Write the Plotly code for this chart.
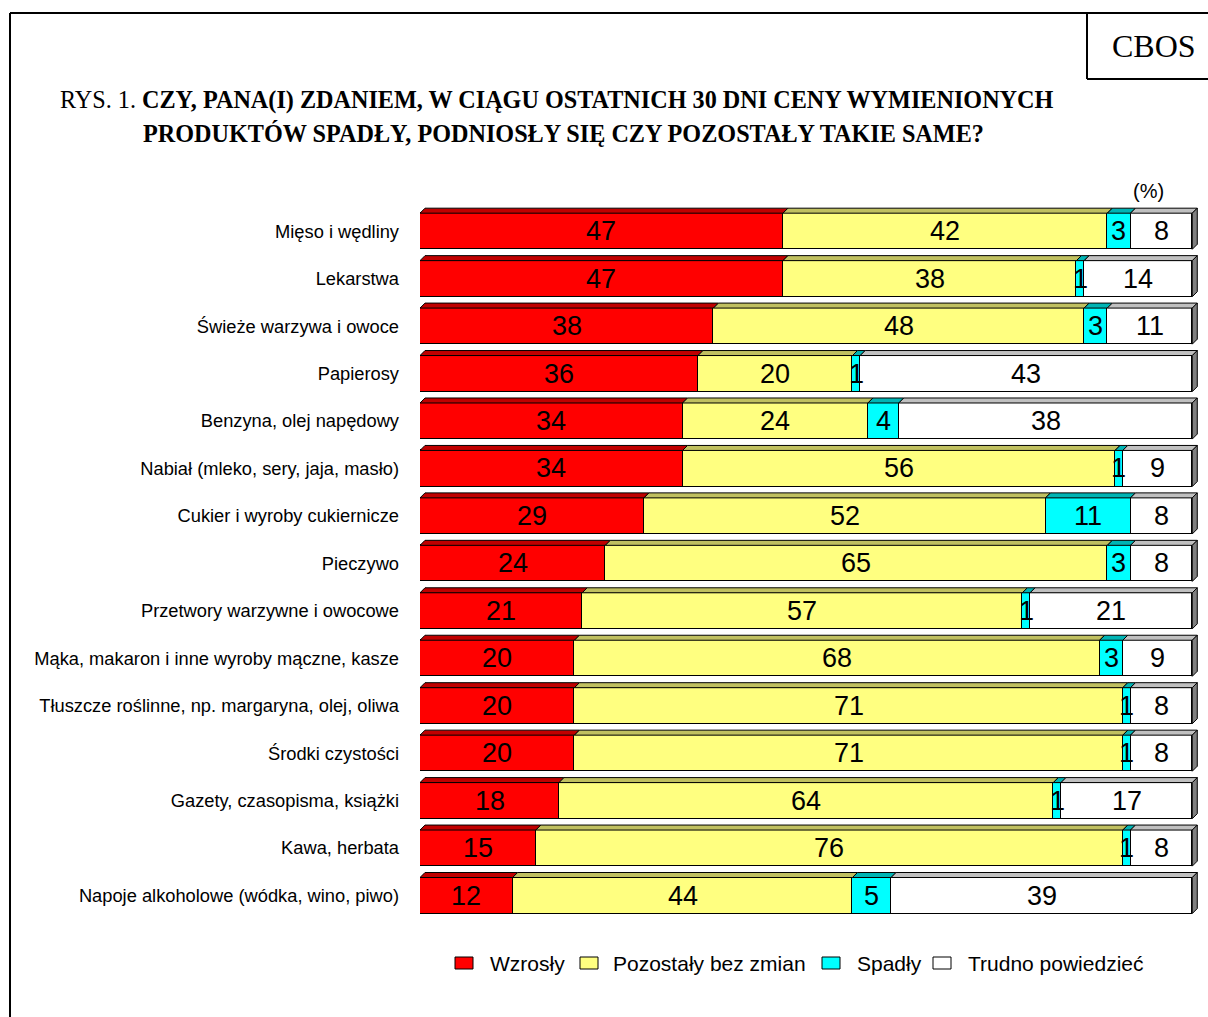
import plotly.graph_objects as go

# Survey answers (%), one row per product group
categories = [
    "Mięso i wędliny",
    "Lekarstwa",
    "Świeże warzywa i owoce",
    "Papierosy",
    "Benzyna, olej napędowy",
    "Nabiał (mleko, sery, jaja, masło)",
    "Cukier i wyroby cukiernicze",
    "Pieczywo",
    "Przetwory warzywne i owocowe",
    "Mąka, makaron i inne wyroby mączne, kasze",
    "Tłuszcze roślinne, np. margaryna, olej, oliwa",
    "Środki czystości",
    "Gazety, czasopisma, książki",
    "Kawa, herbata",
    "Napoje alkoholowe (wódka, wino, piwo)",
]
wzrosly = [47, 47, 38, 36, 34, 34, 29, 24, 21, 20, 20, 20, 18, 15, 12]
bez_zmian = [42, 38, 48, 20, 24, 56, 52, 65, 57, 68, 71, 71, 64, 76, 44]
spadly = [3, 1, 3, 1, 4, 1, 11, 3, 1, 3, 1, 1, 1, 1, 5]
trudno = [8, 14, 11, 43, 38, 9, 8, 8, 21, 9, 8, 8, 17, 8, 39]

series_names = ["Wzrosły", "Pozostały bez zmian", "Spadły", "Trudno powiedzieć"]
series_values = [wzrosly, bez_zmian, spadly, trudno]
front_colors = ["#FF0000", "#FFFF80", "#00FFFF", "#FFFFFF"]
top_colors = ["#C00000", "#C0C060", "#00B4B4", "#C0C0C0"]
side_color = "#808080"

# page geometry (pixels)
W, H = 1208, 1017
M_L, M_R, M_T, M_B = 420, 8, 198, 93
PLOT_W = W - M_L - M_R
PLOT_H = H - M_T - M_B
X_RANGE = [0, 101]
Y_RANGE = [14.6, -0.7]
BAR_W = 0.76

px_per_x = PLOT_W / (X_RANGE[1] - X_RANGE[0])
px_per_y = PLOT_H / (Y_RANGE[0] - Y_RANGE[1])
DEPTH_PX = 5
dx = DEPTH_PX / px_per_x
dy = DEPTH_PX / px_per_y


def paper_x(px):
    return (px - M_L) / PLOT_W


def paper_y(py):
    return (H - M_B - py) / PLOT_H


rows = list(range(len(categories)))
fig = go.Figure()

for name, vals, col in zip(series_names, series_values, front_colors):
    fig.add_trace(go.Bar(
        y=rows, x=vals, name=name, orientation="h", width=BAR_W,
        marker=dict(color=col, line=dict(color="black", width=1)),
        hoverinfo="x+name", showlegend=False,
    ))

shapes = []
annotations = []
for i in rows:
    left = 0
    y_top = i - BAR_W / 2
    y_bot = i + BAR_W / 2
    for s, vals in enumerate(series_values):
        v = vals[i]
        right = left + v
        # top face of the segment
        shapes.append(dict(
            type="path", xref="x", yref="y", layer="above",
            path=(f"M{left},{y_top} L{right},{y_top} L{right + dx},{y_top - dy} "
                  f"L{left + dx},{y_top - dy} Z"),
            fillcolor=top_colors[s], line=dict(color="black", width=1),
        ))
        annotations.append(dict(
            x=(left + right) / 2, y=i, xref="x", yref="y", text=str(v),
            showarrow=False, xanchor="center", yanchor="middle",
            font=dict(family="Liberation Sans, Arial", size=27, color="black"),
        ))
        left = right
    # right side face at the end of the stack
    shapes.append(dict(
        type="path", xref="x", yref="y", layer="above",
        path=(f"M{left},{y_bot} L{left},{y_top} L{left + dx},{y_top - dy} "
              f"L{left + dx},{y_bot - dy} Z"),
        fillcolor=side_color, line=dict(color="black", width=1),
    ))

# page frame and the CBOS box
frame = dict(color="black", width=2)
shapes += [
    dict(type="line", xref="paper", yref="paper", x0=paper_x(10), x1=paper_x(W + 5),
         y0=paper_y(13), y1=paper_y(13), line=frame),
    dict(type="line", xref="paper", yref="paper", x0=paper_x(10), x1=paper_x(10),
         y0=paper_y(13), y1=paper_y(H + 5), line=frame),
    dict(type="line", xref="paper", yref="paper", x0=paper_x(1087), x1=paper_x(1087),
         y0=paper_y(13), y1=paper_y(79), line=frame),
    dict(type="line", xref="paper", yref="paper", x0=paper_x(1087), x1=paper_x(W + 5),
         y0=paper_y(79), y1=paper_y(79), line=frame),
]

serif = "Liberation Serif, Times New Roman, serif"
sans = "Liberation Sans, Arial, sans-serif"

# legend row: swatch left edges and label left edges (pixels)
LEGEND_Y = 963
swatch_left = [455, 580, 822, 933]
label_left = [488, 611, 855, 966]
for name, col, sx, lx in zip(series_names, front_colors, swatch_left, label_left):
    shapes.append(dict(
        type="rect", xref="paper", yref="paper",
        x0=paper_x(sx), x1=paper_x(sx + 18),
        y0=paper_y(LEGEND_Y - 6), y1=paper_y(LEGEND_Y + 6),
        fillcolor=col, line=dict(color="black", width=1),
    ))
    annotations.append(dict(
        xref="paper", yref="paper", x=paper_x(lx), y=paper_y(LEGEND_Y),
        text=name, showarrow=False, xanchor="left", yanchor="middle",
        font=dict(family=sans, size=21, color="black"),
    ))

annotations += [
    dict(xref="paper", yref="paper", x=paper_x(1154), y=paper_y(46), text="CBOS",
         showarrow=False, xanchor="center", yanchor="middle",
         font=dict(family=serif, size=32, color="black")),
    dict(xref="paper", yref="paper", x=paper_x(58), y=paper_y(100),
         text="RYS. 1. <b>CZY, PANA(I) ZDANIEM, W CIĄGU OSTATNICH 30 DNI CENY WYMIENIONYCH</b>",
         showarrow=False, xanchor="left", yanchor="middle",
         font=dict(family=serif, size=24.2, color="black")),
    dict(xref="paper", yref="paper", x=paper_x(141), y=paper_y(133),
         text="<b>PRODUKTÓW SPADŁY, PODNIOSŁY SIĘ CZY POZOSTAŁY TAKIE SAME?</b>",
         showarrow=False, xanchor="left", yanchor="middle",
         font=dict(family=serif, size=24.2, color="black")),
    dict(xref="paper", yref="paper", x=paper_x(1148), y=paper_y(191), text="(%)",
         showarrow=False, xanchor="center", yanchor="middle",
         font=dict(family=sans, size=20, color="black")),
]

fig.update_layout(
    width=W, height=H,
    margin=dict(l=M_L, r=M_R, t=M_T, b=M_B, pad=0),
    paper_bgcolor="white", plot_bgcolor="white",
    barmode="stack", bargap=0,
    showlegend=False,
    xaxis=dict(range=X_RANGE, visible=False, fixedrange=True),
    yaxis=dict(
        range=Y_RANGE, tickmode="array", tickvals=rows, ticktext=categories,
        showgrid=False, zeroline=False, showline=False, ticks="",
        ticklabelstandoff=20,
        tickfont=dict(family=sans, size=18.3, color="black"), fixedrange=True,
    ),
    shapes=shapes,
    annotations=annotations,
)

fig.write_html("out.html")
